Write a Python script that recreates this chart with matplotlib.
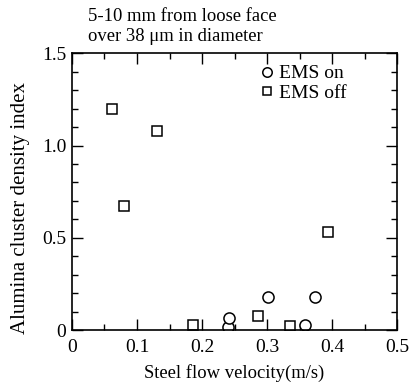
import matplotlib
matplotlib.use("Agg")
import matplotlib.pyplot as plt
from matplotlib.ticker import MultipleLocator, FixedFormatter, FixedLocator

# EMS off (squares)
off_x = [0.062, 0.080, 0.130, 0.186, 0.286, 0.335, 0.393]
off_y = [1.20, 0.67, 1.08, 0.03, 0.075, 0.02, 0.53]

# EMS on (circles)
on_x = [0.240, 0.242, 0.302, 0.359, 0.373]
on_y = [0.015, 0.065, 0.18, 0.03, 0.18]

x_ticks = [0, 0.1, 0.2, 0.3, 0.4, 0.5]
x_labels = ["0", "0.1", "0.2", "0.3", "0.4", "0.5"]
y_ticks = [0, 0.5, 1.0, 1.5]
y_labels = ["0", "0.5", "1.0", "1.5"]

plt.rcParams['font.family'] = ['Liberation Serif', 'DejaVu Serif']

fig = plt.figure(figsize=(4.09, 3.88), dpi=100)
ax = fig.add_axes([0.176, 0.149, 0.795, 0.714])

ax.plot(on_x, on_y, linestyle="none", marker="o", markersize=8,
        markerfacecolor="white", markeredgecolor="black", markeredgewidth=1.1,
        label="EMS on")
ax.plot(off_x, off_y, linestyle="none", marker="s", markersize=7,
        markerfacecolor="white", markeredgecolor="black", markeredgewidth=1.1,
        label="EMS off")

ax.set_xlim(0, 0.5)
ax.set_ylim(0, 1.5)
ax.xaxis.set_major_locator(FixedLocator(x_ticks))
ax.xaxis.set_major_formatter(FixedFormatter(x_labels))
ax.yaxis.set_major_locator(FixedLocator(y_ticks))
ax.yaxis.set_major_formatter(FixedFormatter(y_labels))
ax.xaxis.set_minor_locator(MultipleLocator(0.05))
ax.yaxis.set_minor_locator(MultipleLocator(0.1))

ax.tick_params(which="both", direction="in", top=True, right=True,
               labelsize=14, width=1.0)
ax.tick_params(axis="x", pad=6)
ax.tick_params(axis="y", pad=4)
ax.tick_params(which="major", length=8)
ax.tick_params(which="minor", length=4.5)
for s in ax.spines.values():
    s.set_linewidth(1.2)

ax.set_xlabel("Steel flow velocity(m/s)", fontsize=13.4, labelpad=6)
ax.set_ylabel("Alumina cluster density index", fontsize=15)
ax.yaxis.set_label_coords(-0.13, 0.44)

fig.text(0.215, 0.958, "5-10 mm from loose face", fontsize=13.4, va="center")
fig.text(0.215, 0.905, "over 38 \u03bcm in diameter", fontsize=13.4, va="center")

ax.legend(loc="upper left", frameon=False, fontsize=14, handletextpad=0.25,
          borderaxespad=0, borderpad=0, labelspacing=0.1, handlelength=0.7,
          markerscale=0.85, bbox_to_anchor=(0.58, 0.958))

fig.savefig("out.png", dpi=100)
